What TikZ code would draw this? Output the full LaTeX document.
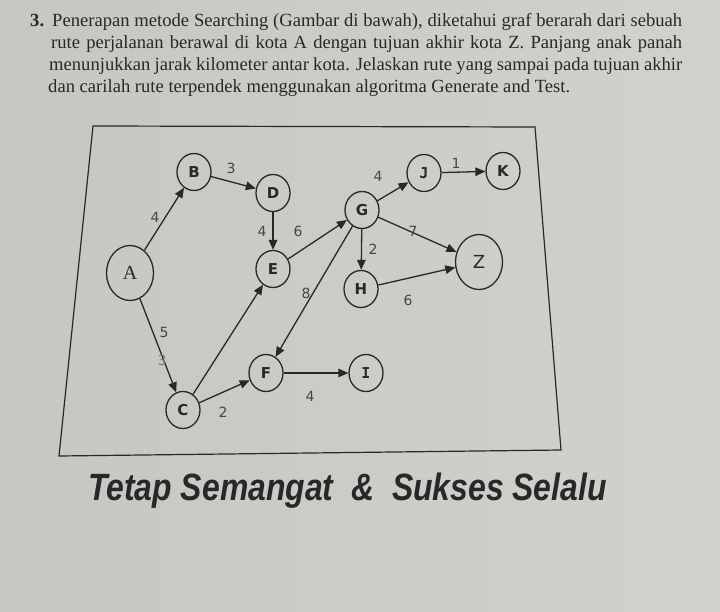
\documentclass[tikz,border=0pt]{standalone}
\usepackage{fontspec}
\usepackage{graphicx}
\setmainfont{Liberation Serif}
\newfontfamily\citysans{DejaVu Sans}
\newfontfamily\citymono{DejaVu Sans Mono}
\newfontfamily\mottofont{Liberation Sans}
\usetikzlibrary{arrows.meta,shapes.geometric}

\definecolor{paper}{RGB}{211,209,205}
\definecolor{paperdark}{RGB}{200,198,194}
\definecolor{ink}{RGB}{40,40,40}
\definecolor{labelgray}{RGB}{70,70,70}
\definecolor{faint}{RGB}{120,120,118}

\tikzset{
  city/.style={draw=ink, line width=1.3pt, ellipse, minimum width=34pt,
    minimum height=37pt, inner sep=0pt, text=ink,
    font=\citysans\bfseries\fontsize{15}{15}\selectfont},
  bigcity/.style={city, minimum width=47pt, minimum height=55pt},
  link/.style={draw=ink, line width=1.3pt, -{Triangle[length=10pt,width=8.5pt]}},
  dist/.style={font=\citysans\fontsize{14}{14}\selectfont, text=labelgray, inner sep=0pt},
  taskline/.style={anchor=base west, inner sep=0pt, text=ink,
    font=\fontsize{18.6}{22}\selectfont},
}

\begin{document}
\begin{tikzpicture}[x=1pt,y=-1pt]
  % paper
  \shade[left color=paperdark, right color=paper] (0,0) rectangle (720,612);
  \useasboundingbox (0,0) rectangle (720,612);

  % task text
  \node[taskline] (num) at (30,27) {\bfseries 3.};
  \node[taskline] (l1) at (52,27) {\makebox[630pt][s]{Penerapan metode Searching (Gambar di bawah), diketahui graf berarah dari sebuah}};
  \node[taskline] (l2) at (51,49) {\makebox[631pt][s]{rute perjalanan berawal di kota A dengan tujuan akhir kota Z. Panjang anak panah}};
  \node[taskline] (l3) at (49,71) {\makebox[633pt][s]{menunjukkan jarak kilometer antar kota. Jelaskan rute yang sampai pada tujuan akhir}};
  \node[taskline] (l4) at (48,93) {dan carilah rute terpendek menggunakan algoritma Generate and Test.};

  % frame of the figure
  \draw[ink, line width=1.2pt] (93,126) -- (535,127) -- (561,450) -- (59,456) -- cycle;

  % cities
  \node[bigcity, font=\fontsize{20}{20}\selectfont] (A) at (130,273) {A};
  \node[city] (B) at (194,172) {B};
  \node[city] (D) at (273,193) {D};
  \node[city] (E) at (273,269) {E};
  \node[city] (G) at (362,210) {G};
  \node[city, font=\citymono\bfseries\fontsize{15}{15}\selectfont] (J) at (424,173) {J};
  \node[city] (K) at (503,171) {K};
  \node[bigcity, font=\citysans\fontsize{18}{18}\selectfont] (Z) at (479,262) {Z};
  \node[city] (H) at (361,289) {H};
  \node[city] (C) at (183,410) {C};
  \node[city] (F) at (266,373) {F};
  \node[city, font=\citymono\bfseries\fontsize{15}{15}\selectfont] (I) at (366,373) {I};

  % roads
  \draw[link] (A) -- (B);
  \draw[link] (B) -- (D);
  \draw[link] (D) -- (E);
  \draw[link] (E) -- (G);
  \draw[link] (G) -- (J);
  \draw[link] (J) -- (K);
  \draw[link] (G) -- (Z);
  \draw[link] (G) -- (H);
  \draw[link] (H) -- (Z);
  \draw[link] (G) -- (F);
  \draw[link] (A) -- (C);
  \draw[link] (C) -- (E);
  \draw[link] (C) -- (F);
  \draw[link] (F) -- (I);

  % distances
  \node[dist] (dAB) at (155,217) {4};
  \node[dist] (dBD) at (231,168) {3};
  \node[dist] (dDE) at (262,231) {4};
  \node[dist] (dEG) at (298,231) {6};
  \node[dist] (dGJ) at (378,176) {4};
  \node[dist] (dJK) at (456,163) {1};
  \node[dist] (dGZ) at (413,231) {7};
  \node[dist] (dGH) at (373,249) {2};
  \node[dist] (dGF) at (306,293) {8};
  \node[dist] (dHZ) at (408,300) {6};
  \node[dist] (dAC) at (164,332) {5};
  \node[dist, text=faint] (dACold) at (162,360) {3};
  \node[dist] (dCF) at (223,412) {2};
  \node[dist] (dFI) at (310,396) {4};

  % motto
  \node[anchor=base west, inner sep=0pt, text=ink] (motto) at (88,500)
    {\scalebox{0.84}[1]{\mottofont\bfseries\itshape\fontsize{38}{38}\selectfont Tetap Semangat\ \ \&\ \ Sukses Selalu}};
\end{tikzpicture}
\end{document}
